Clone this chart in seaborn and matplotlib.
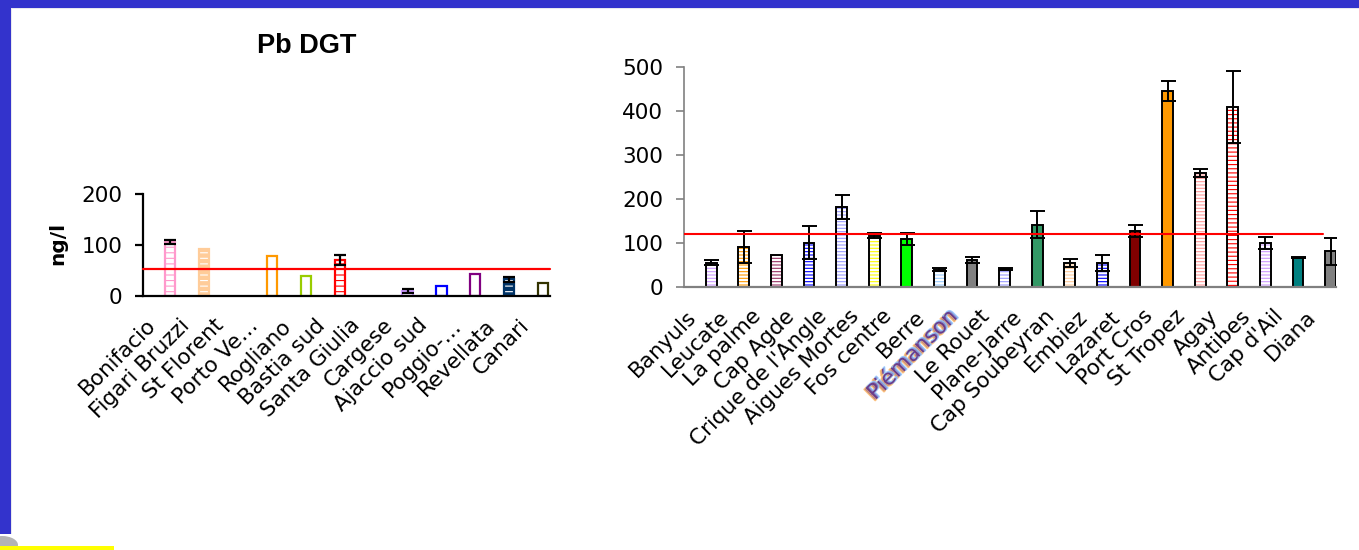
import numpy as np
import pandas as pd
import seaborn as sns
import matplotlib
matplotlib.use("Agg")
import matplotlib.pyplot as plt
from matplotlib.patches import Rectangle, Ellipse
import matplotlib.patheffects as pe

# ---- Pb DGT, Corsica sites (ng/l) ----
corse_sites = ["Bonifacio", "Figari Bruzzi", "St Florent", "Porto Ve\u2026", "Rogliano",
               "Bastia sud", "Santa Giulia", "Cargese", "Ajaccio sud", "Poggio-\u2026",
               "Revellata", "Canari"]
corse_values = [106, 91, np.nan, 78, 39, 70, np.nan, 9, 20, 43, 32, 24]
corse_errors = [4, 0, 0, 0, 0, 10, 0, 3.5, 0, 0, 4.5, 0]
corse_threshold = 53
corse_yticks = [0, 100, 200]

# ---- Pb DGT, mainland sites (ng/l) ----
cont_sites = ["Banyuls", "Leucate", "La palme", "Cap Agde", "Crique de l'Angle",
              "Aigues Mortes", "Fos centre", "Berre", "Pi\u00e9manson", "Le Rouet",
              "Plane-Jarre", "Cap Soubeyran", "Embiez", "Lazaret", "Port Cros",
              "St Tropez", "Agay", "Antibes", "Cap d'Ail", "Diana"]
cont_values = [55, 91, 72, 100, 181, 116, 109, 39, 61, 41,
               141, 54, 54, 127, 444, 258, 408, 100, 66, 80]
cont_errors = [5, 36, 0, 37, 27, 6, 14, 3, 7, 2,
               31, 10, 18, 13, 23, 9, 82, 14, 1, 30]
cont_threshold = 119
cont_yticks = [0, 100, 200, 300, 400, 500]

# bar styles: (fill colour, hatch colour, hatch, outline colour)
corse_styles = [
    ("white", "#FF99CC", "---", "#FF99CC"),
    ("#FFCC99", "white", "---", "#FFCC99"),
    ("white", None, "", "white"),
    ("white", None, "", "#FF9900"),
    ("white", None, "", "#99CC00"),
    ("white", "#FF0000", "---", "#FF0000"),
    ("white", None, "", "white"),
    ("white", "#CC99FF", "---", "#CC99FF"),
    ("white", None, "", "#0000FF"),
    ("white", None, "", "#800080"),
    ("#003366", "white", "---", "#003366"),
    ("white", None, "", "#333300"),
]
cont_styles = [
    ("white", "#CC99FF", "-----", "black"),
    ("white", "#FF9900", "-----", "black"),
    ("white", "#993366", "-----", "black"),
    ("white", "#0000FF", "-----", "black"),
    ("white", "#9999FF", "-----", "black"),
    ("white", "#FFFF00", "-----", "black"),
    ("#00FF00", None, "", "black"),
    ("white", "#99CCFF", "-----", "black"),
    ("#808080", None, "", "black"),
    ("white", "#9999FF", "-----", "black"),
    ("#339966", None, "", "black"),
    ("white", "#FFCC99", "-----", "black"),
    ("white", "#0000FF", "-----", "black"),
    ("#800000", None, "", "black"),
    ("#FF9900", None, "", "black"),
    ("white", "#FF9999", "-----", "black"),
    ("white", "#FF0000", "----", "black"),
    ("white", "#CC99FF", "-----", "black"),
    ("#008080", None, "", "black"),
    ("#808080", None, "", "black"),
]

sns.set_theme(style="white")
plt.rcParams["font.family"] = ["DejaVu Sans"]
plt.rcParams["text.color"] = "black"
plt.rcParams["hatch.linewidth"] = 0.8

fig = plt.figure(figsize=(13.59, 5.5), dpi=100)
fig.patch.set_facecolor("white")


def draw_panel(ax, sites, values, errors, styles, width, edge_lw,
               capsize, err_lw):
    df = pd.DataFrame({"site": sites, "value": values, "series": "DGT"})
    kw = dict(data=df, x="site", y="value", hue="series",
              hue_order=["_a", "_b", "DGT"], palette=["white"] * 3,
              order=sites, dodge=True, width=width, errorbar=None,
              legend=False, ax=ax)
    shift = width / 3.0
    # first pass: fills and hatching
    n0 = len(ax.patches)
    sns.barplot(**kw)
    for p in ax.patches[n0:]:
        k = int(round(p.get_x() + p.get_width() / 2 - shift))
        fc, hc, hatch, oc = styles[k]
        p.set_facecolor(fc)
        p.set_edgecolor(hc if hc else fc)
        p.set_hatch(hatch if hatch else None)
        p.set_linewidth(0)
    # second pass: outlines
    n1 = len(ax.patches)
    sns.barplot(**kw)
    xs, ys, es = [], [], []
    for p in ax.patches[n1:]:
        cx = p.get_x() + p.get_width() / 2
        k = int(round(cx - shift))
        p.set_facecolor("none")
        p.set_edgecolor(styles[k][3])
        p.set_linewidth(edge_lw)
        if errors[k] > 0:
            xs.append(cx)
            ys.append(values[k])
            es.append(errors[k])
    ax.errorbar(xs, ys, yerr=es, fmt="none", ecolor="black",
                elinewidth=err_lw, capsize=capsize, capthick=err_lw, zorder=4)
    ax.set_xlim(-0.5, len(sites) - 0.5)
    ax.set_xlabel("")
    ax.set_ylabel("")
    ax.set_facecolor("none")


# ---------------- left panel ----------------
axL = fig.add_axes([143 / 1359, 1 - 295.7 / 550, 407 / 1359, 101.7 / 550])
draw_panel(axL, corse_sites, corse_values, corse_errors, corse_styles,
           width=0.9, edge_lw=1.6, capsize=4.6, err_lw=1.6)
axL.set_ylim(0, 200)
axL.set_yticks(corse_yticks)
axL.axhline(corse_threshold, color="#FF0000", lw=1.6, zorder=5, clip_on=False)
for s in ["top", "right"]:
    axL.spines[s].set_visible(False)
for s in ["left", "bottom"]:
    axL.spines[s].set_color("black")
    axL.spines[s].set_linewidth(1.6)
axL.tick_params(axis="y", direction="out", length=6, width=1.6, color="black",
                pad=9, labelsize=15.5, labelcolor="black", left=True)
axL.tick_params(axis="x", length=0, pad=14, labelsize=15.5, labelcolor="black")
plt.setp(axL.get_xticklabels(), rotation=45, ha="right")

fig.text(307 / 1359, 1 - 46 / 550, "Pb DGT", ha="center", va="center", color="black",
         fontsize=19.5, fontweight="bold", family=["Liberation Sans", "DejaVu Sans"])
fig.text(58 / 1359, 1 - 243 / 550, "ng/l", ha="center", va="center", color="black",
         rotation=90, fontsize=14.5, fontweight="bold")

# ---------------- right panel ----------------
axR = fig.add_axes([684 / 1359, 1 - 286.7 / 550, 652 / 1359, 220 / 550])
draw_panel(axR, cont_sites, cont_values, cont_errors, cont_styles,
           width=1.0, edge_lw=1.4, capsize=5.4, err_lw=1.4)
axR.set_ylim(0, 500)
axR.set_yticks(cont_yticks)
axR.axhline(cont_threshold, xmin=0, xmax=0.98, color="#FF0000", lw=1.5, zorder=5)
for s in ["top", "right"]:
    axR.spines[s].set_visible(False)
axR.spines["left"].set_color("#808080")
axR.spines["left"].set_linewidth(1.2)
axR.spines["bottom"].set_color("#808080")
axR.spines["bottom"].set_linewidth(1.6)
axR.tick_params(axis="y", direction="out", length=6, width=1.2, color="#808080",
                pad=9, labelsize=15.5, labelcolor="black", left=True)
axR.tick_params(axis="x", length=0, pad=14, labelsize=15.5, labelcolor="black")
plt.setp(axR.get_xticklabels(), rotation=45, ha="right")
for lab in axR.get_xticklabels():
    if lab.get_text() == "Pi\u00e9manson":
        lab.set_color("#6A3C8A")
        lab.set_path_effects([
            pe.Stroke(offset=(-1.0, -1.0), linewidth=1.2, foreground="#FFB866", alpha=0.8),
            pe.Stroke(offset=(0.8, 0.8), linewidth=1.2, foreground="#8FC3FF", alpha=0.8),
            pe.Normal(),
        ])

# ---------------- slide frame ----------------
fig.patches.append(Rectangle((0, 1 - 7.7 / 550), 1, 7.7 / 550, transform=fig.transFigure,
                             facecolor="#3333CC", edgecolor="none", zorder=0))
fig.patches.append(Rectangle((0, 1 - 9.2 / 550), 1, 1.5 / 550, transform=fig.transFigure,
                             facecolor="#E8E8EE", edgecolor="none", zorder=0))
fig.patches.append(Rectangle((0, 1 - 534 / 550), 10.7 / 1359, 534 / 550,
                             transform=fig.transFigure, facecolor="#3333CC",
                             edgecolor="none", zorder=0))
fig.patches.append(Rectangle((10.7 / 1359, 1 - 534 / 550), 1.5 / 1359, 526 / 550,
                             transform=fig.transFigure, facecolor="#E8E8EE",
                             edgecolor="none", zorder=0))
fig.patches.append(Ellipse((2 / 1359, 1 - 545 / 550), 32 / 1359, 18 / 550,
                           transform=fig.transFigure, facecolor="#B4B4B4",
                           edgecolor="none", zorder=0))
fig.patches.append(Rectangle((0, 0), 114 / 1359, 4.3 / 550, transform=fig.transFigure,
                             facecolor="#FFFF00", edgecolor="none", zorder=1))

fig.savefig("out.png", dpi=100, facecolor="white")
